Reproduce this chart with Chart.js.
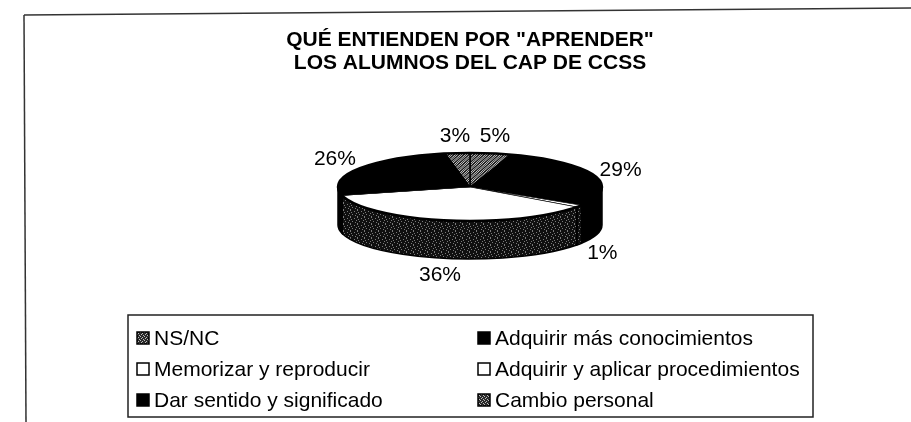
<!DOCTYPE html>
<html><head><meta charset="utf-8">
<script src="https://cdn.jsdelivr.net/npm/chart.js@4.4.1/dist/chart.umd.min.js"></script>
<style>html,body{margin:0;padding:0;background:#fff;overflow:hidden}#wrap{width:911px;height:422px;position:relative}</style>
</head><body><div id="wrap"><canvas id="c" width="911" height="422"></canvas></div>
<script>
// ---- data ----
const categories = ["NS/NC", "Adquirir más conocimientos", "Memorizar y reproducir",
  "Adquirir y aplicar procedimientos", "Dar sentido y significado", "Cambio personal"];
const percentages = [5, 29, 1, 36, 26, 3];
const titleLines = ['QUÉ ENTIENDEN POR "APRENDER"', 'LOS ALUMNOS DEL CAP DE CCSS'];

// ---- styles ----
const FONT = '"Liberation Sans", Arial, sans-serif';
function stipple(bg, fg, mask) {
  const c = document.createElement('canvas');
  c.width = mask[0].length; c.height = mask.length;
  const x = c.getContext('2d');
  x.fillStyle = bg; x.fillRect(0, 0, c.width, c.height);
  x.fillStyle = fg;
  mask.forEach((row, j) => { for (let i = 0; i < row.length; i++) if (row[i] === '1') x.fillRect(i, j, 1, 1); });
  return x.createPattern(c, 'repeat');
}
const grayPat = stipple('#1a1a1a', '#d0d0d0', ["10010", "01001", "10100", "01010", "00101"]);
const darkPat = stipple('#101010', '#7a7a7a', ["1000000", "0000100", "0100000", "0000001", "0010000", "0000010", "1000000"]);
const legendGray = stipple('#2a2a2a', '#bbbbbb', ["1000", "0010", "0100", "0001"]);
const topFill = [grayPat, '#000000', '#ffffff', '#ffffff', '#000000', grayPat];
const sideFill = [grayPat, '#000000', darkPat, darkPat, '#000000', grayPat];
const legendFill = [legendGray, '#000000', '#ffffff', '#ffffff', '#000000', legendGray];

const P3D = { cy: 187, ratio: 34 / 132, depth: 38, labA: 160, labB: 51 };

const pie3d = {
  id: 'pie3d',
  beforeDraw(chart) {
    const ctx = chart.ctx;
    ctx.save();
    ctx.strokeStyle = '#333'; ctx.lineWidth = 1.5;
    ctx.beginPath(); ctx.moveTo(24, 15); ctx.lineTo(911, 8); ctx.stroke();
    ctx.beginPath(); ctx.moveTo(24, 15); ctx.lineTo(26, 422); ctx.stroke();
    ctx.restore();
  },
  beforeDatasetsDraw(chart) {
    const ctx = chart.ctx, meta = chart.getDatasetMeta(0);
    const a0 = meta.data[0], cx = a0.x, r = a0.outerRadius, b = r * P3D.ratio;
    meta.data.forEach((arc, i) => {
      const s = Math.max(arc.startAngle, 0), e = Math.min(arc.endAngle, Math.PI);
      if (e <= s) return;
      ctx.beginPath();
      ctx.ellipse(cx, P3D.cy, r, b, 0, s, e, false);
      ctx.ellipse(cx, P3D.cy + P3D.depth, r, b, 0, e, s, true);
      ctx.closePath();
      ctx.fillStyle = sideFill[i]; ctx.fill();
      ctx.lineWidth = 1.5; ctx.strokeStyle = '#000'; ctx.stroke();
    });
    ctx.save();
    ctx.translate(0, P3D.cy); ctx.scale(1, P3D.ratio); ctx.translate(0, -a0.y);
  },
  afterDatasetsDraw(chart) {
    const ctx = chart.ctx; ctx.restore();
    const meta = chart.getDatasetMeta(0);
    const a0 = meta.data[0], cx = a0.x, r = a0.outerRadius, b = r * P3D.ratio;
    ctx.save();
    ctx.beginPath(); ctx.ellipse(cx, P3D.cy, r, b, 0, 0, Math.PI * 2);
    ctx.lineWidth = 2.5; ctx.strokeStyle = '#000'; ctx.stroke();
    // labels
    ctx.fillStyle = '#000'; ctx.font = '21px ' + FONT;
    ctx.textAlign = 'center'; ctx.textBaseline = 'middle';
    meta.data.forEach((arc, i) => {
      const m = (arc.startAngle + arc.endAngle) / 2;
      const x = cx + P3D.labA * Math.cos(m);
      const y = P3D.cy + P3D.labB * Math.sin(m) + (Math.sin(m) > 0 ? P3D.depth : 0);
      ctx.fillText(chart.data.datasets[0].data[i] + '%', x, y);
    });
    ctx.restore();
  },
  afterDraw(chart) {
    const ctx = chart.ctx;
    ctx.save();
    const L = 128, T = 315, R = 813, B = 417;
    ctx.strokeStyle = '#222'; ctx.lineWidth = 1.5;
    ctx.strokeRect(L, T, R - L, B - T);
    ctx.font = '21px ' + FONT; ctx.textBaseline = 'middle'; ctx.textAlign = 'left';
    const colX = [137, 478], rowY = [338, 369, 400], box = 12;
    chart.data.labels.forEach((lab, i) => {
      const col = i % 2, row = Math.floor(i / 2);
      const x = colX[col], y = rowY[row];
      ctx.fillStyle = legendFill[i];
      ctx.fillRect(x, y - box / 2, box, box);
      ctx.lineWidth = 1.5; ctx.strokeStyle = '#000';
      ctx.strokeRect(x, y - box / 2, box, box);
      ctx.fillStyle = '#000';
      ctx.fillText(lab, x + 17, y + 1);
    });
    ctx.restore();
  }
};

new Chart(document.getElementById('c'), {
  type: 'pie',
  data: {
    labels: categories,
    datasets: [{
      data: percentages,
      backgroundColor: topFill,
      borderColor: '#000',
      borderWidth: 1.5,
      radius: 132
    }]
  },
  options: {
    responsive: false, animation: false, devicePixelRatio: 1, events: [],
    layout: { padding: { left: 29, right: 0, top: 0, bottom: 0 } },
    plugins: {
      legend: { display: false },
      tooltip: { enabled: false },
      title: {
        display: true, text: titleLines, color: '#000',
        font: { family: FONT, size: 21, weight: 'bold', lineHeight: 1.13 },
        padding: { top: 28, bottom: 10 }
      }
    }
  },
  plugins: [pie3d]
});
</script></body></html>
